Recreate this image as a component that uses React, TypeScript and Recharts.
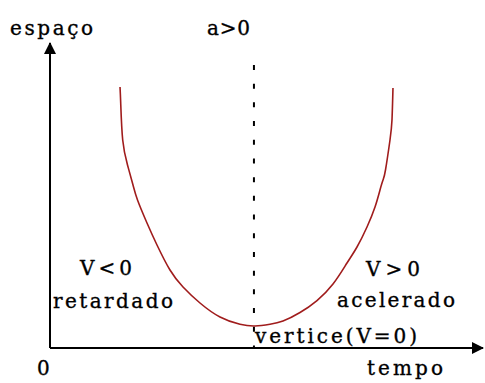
import React from 'react';
import { ComposedChart, Line, XAxis, YAxis, ReferenceLine } from 'recharts';

// position vs time for a > 0 (parabola), read in chart units 0..100
const tempo = [
  16.17, 16.33, 16.79, 17.9, 19.17, 20.21, 22.4, 24.71, 27.71, 30.72, 34.64, 39.26, 43.88, 47.34,
  50.81, 53.81, 57.74, 61.66, 65.36, 68.59, 70.9, 73.21, 75.06, 76.21, 76.91, 77.48, 78.52, 78.98, 79.21,
];
const espaco = [
  85.57, 80.33, 68.2, 60.0, 53.44, 48.52, 40.98, 33.77, 25.57, 20.0, 14.75, 10.16, 7.77, 7.21,
  7.77, 8.85, 11.64, 15.57, 20.98, 27.87, 33.11, 39.67, 46.23, 51.8, 55.08, 58.36, 68.2, 74.75, 85.25,
];

// vertex time and top of the dashed guide
const verticeT = 47.1;
const guiaTopo = 92.8;

const labels = {
  yAxis: 'espaço',
  xAxis: 'tempo',
  origem: '0',
  acel: 'a>0',
  vNeg: 'V<0',
  retardado: 'retardado',
  vPos: 'V>0',
  acelerado: 'acelerado',
  vertice: 'vertice(V=0)',
};

const data = tempo.map((t, i) => ({ tempo: t, espaco: espaco[i] }));

const font = {
  fontFamily: '"DejaVu Serif", serif',
  fontSize: 20,
  fill: '#000',
  stroke: '#000',
  strokeWidth: 0.35,
};

const App: React.FC = () => {
  return (
    <div style={{ position: 'absolute', left: 0, top: 0, width: 485, height: 383, background: '#fff' }}>
      <svg width={0} height={0} style={{ position: 'absolute' }}>
        <defs>
          <marker
            id="seta"
            viewBox="0 0 12 12"
            markerUnits="userSpaceOnUse"
            markerWidth={12}
            markerHeight={12}
            refX={11}
            refY={6}
            orient="auto"
          >
            <path d="M0,0 L12,6 L0,12 z" fill="#000" />
          </marker>
        </defs>
      </svg>
      <ComposedChart width={485} height={383} data={data} margin={{ top: 43, right: 2, bottom: 35, left: 50 }}>
        <XAxis dataKey="tempo" type="number" domain={[0, 100]} hide />
        <YAxis type="number" domain={[0, 100]} hide />
        {/* axes with arrow heads */}
        <ReferenceLine
          segment={[{ x: 0, y: 0 }, { x: 100, y: 0 }]}
          stroke="#000"
          strokeWidth={2}
          markerEnd="url(#seta)"
          ifOverflow="visible"
        />
        <ReferenceLine
          segment={[{ x: 0, y: 0 }, { x: 0, y: 100 }]}
          stroke="#000"
          strokeWidth={2}
          markerEnd="url(#seta)"
          ifOverflow="visible"
        />
        <ReferenceLine
          segment={[{ x: verticeT, y: guiaTopo }, { x: verticeT, y: 0 }]}
          stroke="#000"
          strokeWidth={2}
          strokeDasharray="5 13.7"
        />
        <Line
          type="natural"
          dataKey="espaco"
          stroke="#a01c1c"
          strokeWidth={1.6}
          dot={false}
          isAnimationActive={false}
        />
        <text x={10} y={35} textLength={83} {...font}>{labels.yAxis}</text>
        <text x={207} y={35} textLength={43} {...font}>{labels.acel}</text>
        <text x={80} y={275} textLength={52} {...font}>{labels.vNeg}</text>
        <text x={53} y={308} textLength={120} {...font}>{labels.retardado}</text>
        <text x={366} y={276} textLength={54} {...font}>{labels.vPos}</text>
        <text x={337} y={307} textLength={118} {...font}>{labels.acelerado}</text>
        <text x={255} y={343} textLength={162} {...font}>{labels.vertice}</text>
        <text x={37} y={375} {...font}>{labels.origem}</text>
        <text x={367} y={375} textLength={76} {...font}>{labels.xAxis}</text>
      </ComposedChart>
    </div>
  );
};

export default App;
